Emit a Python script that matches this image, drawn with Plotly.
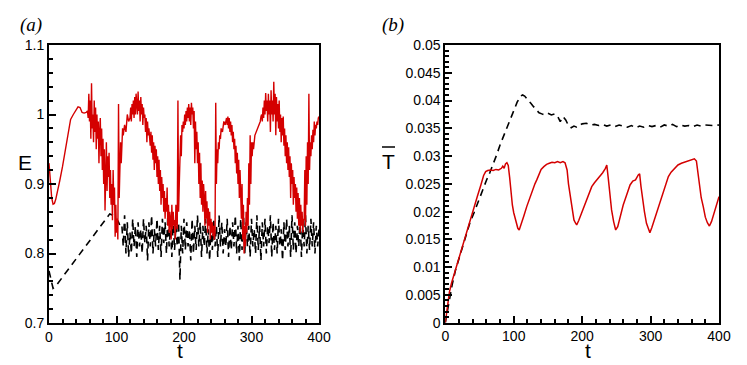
import plotly.graph_objects as go

# ---- panel (a): E vs t ----
t_a_red = [0, 2, 4, 6, 8, 10, 13, 16, 20, 24, 28, 32, 36, 40, 43, 46, 49, 52, 55, 57,
           58, 59, 60, 61, 62, 63, 64, 65, 66, 67, 68, 69, 70, 71, 72, 73, 74, 75, 76, 77,
           78, 79, 80, 81, 82, 83, 84, 85, 86, 87, 88, 89, 90, 91, 92, 93, 94, 95, 96, 97,
           98, 99, 100, 101, 102, 103, 104, 105, 106, 107, 108, 109, 110, 112, 114, 116, 118, 120, 121, 122,
           123, 124, 125, 126, 127, 128, 129, 130, 131, 132, 133, 134, 135, 136, 137, 138, 139, 140, 141, 142,
           143, 144, 145, 146, 147, 148, 150, 151, 152, 153, 154, 155, 156, 157, 158, 159, 160, 161, 162, 163,
           164, 165, 166, 167, 168, 169, 170, 171, 172, 173, 174, 175, 176, 177, 178, 179, 180, 181, 182, 183,
           184, 185, 186, 187, 188, 189, 190, 191, 192, 193, 194, 195, 196, 197, 198, 199, 200, 201, 202, 203,
           204, 205, 206, 207, 208, 209, 210, 211, 212, 213, 214, 215, 216, 217, 218, 219, 220, 221, 222, 223,
           224, 225, 226, 227, 228, 229, 230, 231, 232, 233, 234, 235, 236, 237, 238, 239, 240, 241, 242, 243,
           244, 245, 246, 247, 248, 249, 250, 251, 252, 253, 254, 255, 257, 259, 261, 263, 264, 265, 266, 267,
           268, 269, 270, 271, 272, 273, 274, 275, 276, 277, 278, 279, 280, 281, 282, 283, 284, 285, 286, 287,
           288, 289, 290, 291, 292, 293, 294, 295, 296, 297, 298, 299, 300, 301, 302, 303, 305, 307, 309, 311,
           313, 314, 315, 316, 317, 318, 319, 320, 321, 322, 323, 324, 325, 326, 327, 328, 329, 330, 331, 332,
           333, 334, 335, 336, 337, 338, 339, 340, 341, 342, 343, 344, 345, 346, 347, 348, 349, 350, 351, 352,
           353, 354, 355, 356, 357, 358, 359, 360, 361, 362, 363, 364, 365, 366, 367, 368, 369, 370, 371, 372,
           373, 374, 375, 376, 377, 378, 379, 380, 381, 382, 383, 384, 385, 386, 387, 388, 389, 390, 391, 392,
           393, 394, 395, 396, 397, 398, 399, 400]
e_a_red = [0.93, 0.905, 0.88, 0.871, 0.872, 0.878, 0.89, 0.905, 0.925, 0.95, 0.975, 0.993, 1.0, 1.007, 1.011, 1.01, 1.003, 1.002, 1.003, 1.005,
           0.995, 1.03, 0.99, 1.02, 0.965, 1.045, 0.98, 1.0, 0.96, 1.02, 0.975, 1.01, 0.95, 1.0, 0.965, 0.99, 0.93, 0.975, 0.995, 0.94,
           0.98, 0.92, 0.965, 0.9, 0.95, 0.862, 0.93, 0.96, 0.89, 0.94, 0.91, 0.945, 0.88, 0.92, 0.87, 0.9, 0.848, 0.92, 0.87, 0.895,
           0.824, 0.87, 0.83, 0.85, 0.82, 1.015, 0.88, 0.93, 0.96, 0.93, 0.97, 0.98, 0.97, 0.985, 0.975, 1.0, 0.99, 0.995, 1.01, 0.99,
           1.015, 1.0, 1.02, 0.995, 1.025, 1.0, 1.03, 1.01, 1.0, 1.033, 1.005, 1.02, 0.99, 1.025, 1.0, 1.015, 0.985, 1.01, 0.995, 1.0,
           0.975, 0.995, 0.96, 0.99, 0.97, 0.98, 0.955, 0.975, 0.945, 0.97, 0.935, 0.96, 0.92, 0.955, 0.93, 0.95, 0.91, 0.94, 0.9, 0.935,
           0.89, 0.92, 0.87, 0.91, 0.88, 0.9, 0.86, 0.89, 0.85, 0.88, 0.86, 0.895, 0.84, 0.87, 0.83, 0.86, 0.85, 0.82, 0.87, 0.835,
           0.86, 0.84, 0.848, 0.82, 0.87, 0.85, 0.835, 1.02, 0.86, 0.9, 0.95, 0.97, 0.94, 0.985, 0.975, 0.99, 0.98, 1.0, 0.985, 1.005,
           0.99, 1.01, 0.995, 1.015, 0.99, 1.01, 0.985, 1.017, 1.0, 1.01, 0.98, 1.005, 0.93, 0.99, 0.95, 0.975, 0.93, 0.96, 0.9, 0.945,
           0.88, 0.93, 0.87, 0.905, 0.86, 0.9, 0.88, 0.84, 0.89, 0.85, 0.875, 0.83, 0.865, 0.84, 0.86, 0.82, 0.85, 0.83, 0.845, 0.825,
           0.84, 0.82, 0.83, 1.017, 0.9, 0.95, 0.93, 0.96, 0.95, 0.97, 0.965, 0.98, 0.975, 0.99, 0.985, 0.995, 0.985, 0.997, 0.98, 0.995,
           0.975, 0.99, 0.97, 0.985, 0.96, 0.975, 0.95, 0.965, 0.93, 0.955, 0.915, 0.945, 0.9, 0.935, 0.88, 0.92, 0.887, 0.85, 0.9, 0.82,
           0.87, 0.8, 0.84, 0.81, 0.86, 0.83, 0.88, 0.84, 0.93, 0.87, 0.97, 0.9, 0.96, 0.94, 0.96, 0.95, 0.97, 0.975, 0.98, 0.985,
           0.99, 0.997, 1.0, 0.99, 1.01, 0.995, 1.02, 1.0, 1.031, 1.005, 1.02, 0.99, 1.03, 1.0, 1.02, 0.975, 1.035, 1.0, 1.02, 0.99,
           1.047, 1.0, 1.03, 0.97, 1.025, 0.99, 1.015, 0.98, 1.02, 0.975, 1.0, 0.96, 0.995, 0.97, 0.997, 0.955, 0.98, 0.94, 0.97, 0.93,
           0.96, 0.92, 0.953, 0.91, 0.94, 0.88, 0.93, 0.9, 0.92, 0.87, 0.91, 0.88, 0.9, 0.86, 0.895, 0.85, 0.887, 0.84, 0.88, 0.83,
           0.87, 0.84, 0.86, 0.83, 0.85, 0.848, 0.92, 0.84, 0.94, 0.87, 0.96, 0.9, 1.03, 0.92, 0.96, 0.94, 0.97, 0.95, 0.978, 0.96,
           0.99, 0.97, 0.985, 0.98, 0.99, 0.985, 0.995, 0.997]

t_a_black = [0, 3, 6, 10, 30, 50, 70, 90, 95, 100, 103, 106,
             108, 110, 112, 114, 116, 118, 120, 122, 124, 126, 128, 130, 132, 134, 136, 138, 140, 142, 144, 146,
             148, 150, 152, 154, 156, 158, 160, 162, 164, 166, 168, 170, 172, 174, 176, 178, 180, 182, 184, 186,
             188, 190, 192, 194, 196, 198, 200, 202, 204, 206, 208, 210, 212, 214, 216, 218, 220, 222, 224, 226,
             228, 230, 232, 234, 236, 238, 240, 242, 244, 246, 248, 250, 252, 254, 256, 258, 260, 262, 264, 266,
             268, 270, 272, 274, 276, 278, 280, 282, 284, 286, 288, 290, 292, 294, 296, 298, 300, 302, 304, 306,
             308, 310, 312, 314, 316, 318, 320, 322, 324, 326, 328, 330, 332, 334, 336, 338, 340, 342, 344, 346,
             348, 350, 352, 354, 356, 358, 360, 362, 364, 366, 368, 370, 372, 374, 376, 378, 380, 382, 384, 386,
             388, 390, 392, 394, 396, 398, 400]
e_a_black = [0.775, 0.76, 0.75, 0.753, 0.779, 0.805, 0.831, 0.857, 0.855, 0.85, 0.845, 0.838,
             0.84, 0.81, 0.855, 0.8, 0.845, 0.795, 0.83, 0.8, 0.85, 0.81, 0.84, 0.795, 0.845, 0.81, 0.835, 0.8, 0.85, 0.815, 0.84, 0.79,
             0.845, 0.81, 0.855, 0.8, 0.835, 0.81, 0.85, 0.805, 0.84, 0.795, 0.85, 0.815, 0.845, 0.8, 0.855, 0.81, 0.835, 0.795, 0.85, 0.805,
             0.84, 0.81, 0.845, 0.762, 0.84, 0.8, 0.85, 0.805, 0.845, 0.81, 0.835, 0.79, 0.85, 0.8, 0.84, 0.805, 0.855, 0.81, 0.845, 0.795,
             0.84, 0.81, 0.85, 0.8, 0.835, 0.79, 0.845, 0.805, 0.85, 0.81, 0.84, 0.795, 0.855, 0.81, 0.845, 0.8, 0.835, 0.81, 0.85, 0.795,
             0.84, 0.805, 0.845, 0.81, 0.855, 0.8, 0.84, 0.79, 0.85, 0.805, 0.86, 0.8, 0.845, 0.81, 0.84, 0.795, 0.85, 0.81, 0.835, 0.8,
             0.855, 0.805, 0.84, 0.79, 0.845, 0.81, 0.85, 0.8, 0.84, 0.815, 0.855, 0.795, 0.845, 0.805, 0.84, 0.8, 0.85, 0.81, 0.835, 0.79,
             0.845, 0.805, 0.85, 0.81, 0.84, 0.795, 0.855, 0.805, 0.845, 0.8, 0.84, 0.81, 0.85, 0.795, 0.845, 0.81, 0.855, 0.8, 0.84, 0.805,
             0.85, 0.81, 0.845, 0.8, 0.84, 0.81, 0.835]

# ---- panel (b): T-bar vs t ----
t_b_black = [0, 5, 10, 15, 20, 25, 30, 36, 42, 48, 54, 60, 65, 70, 75, 80, 85, 90, 95, 100,
             105, 110, 113, 116, 120, 125, 129, 133, 137, 141, 145, 150, 155, 160, 164, 168, 172, 176, 180, 184,
             188, 192, 196, 200, 206, 212, 218, 224, 230, 236, 242, 248, 254, 260, 266, 272, 278, 284, 290, 296,
             302, 308, 314, 320, 326, 332, 338, 344, 350, 356, 362, 368, 374, 380, 386, 392, 400]
tb_black = [0, 0.0035, 0.0068, 0.0095, 0.0115, 0.0135, 0.0155, 0.018, 0.0198, 0.0218, 0.0238, 0.0256, 0.027, 0.0285, 0.0302, 0.032, 0.0335, 0.035, 0.0367, 0.0383,
            0.0397, 0.0408, 0.041, 0.0408, 0.0403, 0.0395, 0.0389, 0.0383, 0.0378, 0.0376, 0.0374, 0.0377, 0.0374, 0.0376, 0.0372, 0.0362, 0.0371, 0.0365, 0.0355, 0.0351,
            0.0354, 0.0352, 0.0356, 0.0358, 0.0359, 0.0356, 0.0357, 0.0355, 0.0357, 0.0354, 0.0356, 0.0353, 0.0356, 0.0354, 0.0352, 0.0355, 0.0351, 0.0354, 0.0352, 0.0355,
            0.0353, 0.0355, 0.0352, 0.0356, 0.0354, 0.0357, 0.0353, 0.0356, 0.0354, 0.0355, 0.0353, 0.0356, 0.0354, 0.0356, 0.0355, 0.0355, 0.0356]

t_b_red = [0, 3, 6, 9, 13, 17, 22, 27, 32, 37, 42, 47, 52, 56, 59, 62, 66, 70, 74, 78,
           82, 84, 86, 88, 90, 92, 94, 96, 98, 100, 103, 106, 108, 111, 115, 119, 123, 127, 131, 134,
           137, 140, 144, 148, 152, 156, 160, 164, 168, 172, 175, 178, 180, 182, 185, 188, 190, 192, 195, 198,
           201, 205, 210, 214, 218, 222, 226, 230, 234, 236, 238, 240, 243, 246, 249, 252, 256, 260, 265, 270,
           274, 278, 282, 284, 286, 288, 291, 294, 297, 299, 302, 306, 310, 314, 318, 322, 326, 330, 335, 340,
           345, 350, 355, 360, 364, 367, 369, 371, 374, 377, 380, 383, 386, 389, 393, 397, 400]
tb_red = [0, 0.003, 0.0055, 0.0071, 0.0088, 0.0103, 0.0125, 0.0147, 0.0168, 0.0188, 0.0208, 0.0228, 0.0248, 0.0265, 0.0272, 0.0274, 0.0275, 0.0274, 0.0276, 0.0275,
          0.0278, 0.0282, 0.0278, 0.0286, 0.0288, 0.0283, 0.0262, 0.0235, 0.0212, 0.0198, 0.0185, 0.017, 0.0167, 0.0177, 0.0193, 0.0209, 0.0224, 0.0238, 0.025, 0.0258,
          0.0268, 0.0276, 0.0281, 0.0285, 0.0287, 0.0289, 0.0288, 0.029, 0.0288, 0.029, 0.0288, 0.0275, 0.025, 0.0233, 0.0205, 0.0185, 0.018, 0.0176, 0.0184, 0.0194,
          0.0203, 0.0217, 0.0233, 0.0245, 0.0252, 0.0258, 0.0263, 0.027, 0.0278, 0.0284, 0.0262, 0.0232, 0.0203, 0.0182, 0.0167, 0.0173, 0.0192, 0.0212, 0.023, 0.0248,
          0.0255, 0.0257, 0.0266, 0.0268, 0.0245, 0.0225, 0.02, 0.0179, 0.0166, 0.0162, 0.0172, 0.0187, 0.0203, 0.0218, 0.0234, 0.025, 0.0263, 0.0271, 0.0278, 0.0284,
          0.0287, 0.0289, 0.0291, 0.0294, 0.0295, 0.0291, 0.0272, 0.0248, 0.0225, 0.0209, 0.019, 0.018, 0.0174, 0.0182, 0.0198, 0.0215, 0.0227]

RED = '#d40000'
# the page body adds an 8px margin, so the figure is drawn 8px in from the window corner
OFF = 8
W, H = 747 - OFF, 365 - OFF

fig = go.Figure()
fig.add_trace(go.Scatter(x=t_a_black, y=e_a_black, mode='lines', xaxis='x', yaxis='y',
                         line=dict(color='black', width=1.6, dash='7px,5px')))
fig.add_trace(go.Scatter(x=t_a_red, y=e_a_red, mode='lines', xaxis='x', yaxis='y',
                         line=dict(color=RED, width=1.4)))
fig.add_trace(go.Scatter(x=t_b_black, y=tb_black, mode='lines', xaxis='x2', yaxis='y2',
                         line=dict(color='black', width=1.6, dash='7px,5px')))
fig.add_trace(go.Scatter(x=t_b_red, y=tb_red, mode='lines', xaxis='x2', yaxis='y2',
                         line=dict(color=RED, width=1.5)))

tick_font = dict(family='Liberation Sans, Arial, sans-serif', size=14, color='black')
common = dict(showgrid=False, zeroline=False, showline=True, linecolor='black', linewidth=1.8,
              mirror=True, ticks='inside', ticklen=7, tickwidth=1.5, tickcolor='black',
              tickfont=tick_font, automargin=False)

# window pixel -> paper fraction
def px_x(p):
    return (p - OFF) / W

def px_y(p):
    return 1 - (p - OFF) / H

fig.update_layout(
    template='none',
    width=W, height=H,
    margin=dict(l=0, r=0, t=0, b=0, pad=0),
    paper_bgcolor='white', plot_bgcolor='white',
    showlegend=False,
    xaxis=dict(domain=[px_x(49), px_x(319)], range=[0, 400], dtick=100, anchor='y',
               minor=dict(dtick=20, ticks='inside', ticklen=4, tickcolor='black'), **common),
    yaxis=dict(domain=[px_y(323), px_y(45)], range=[0.7, 1.1], dtick=0.1, anchor='x',
               minor=dict(dtick=0.02, ticks='inside', ticklen=4, tickcolor='black'), **common),
    xaxis2=dict(domain=[px_x(445.3), px_x(719)], range=[0, 400], dtick=100, anchor='y2',
                minor=dict(dtick=20, ticks='inside', ticklen=4, tickcolor='black'), **common),
    yaxis2=dict(domain=[px_y(322.7), px_y(45)], range=[0, 0.05], dtick=0.005, anchor='x2',
                minor=dict(dtick=0.001, ticks='inside', ticklen=4, tickcolor='black'), **common),
)

title_font = dict(family='Liberation Sans, Arial, sans-serif', size=21, color='black')
label_font = dict(family='Liberation Serif, Times New Roman, serif', size=19, color='black')

def note(text, x, y, font):
    fig.add_annotation(text=text, x=px_x(x), y=px_y(y), xref='paper', yref='paper',
                       showarrow=False, xanchor='center', yanchor='middle', font=font)

note('<i>(a)</i>', 31, 25, label_font)
note('<i>(b)</i>', 393, 25, label_font)
note('E', 25, 162, title_font)
note('t', 180, 350, title_font)
note('t', 588, 350, title_font)
note('T', 388.5, 161, title_font)

# overbar on T
fig.add_shape(type='line', xref='paper', yref='paper',
              x0=px_x(382), x1=px_x(395), y0=px_y(147), y1=px_y(147),
              line=dict(color='black', width=1.5))

fig.write_html("out.html")
